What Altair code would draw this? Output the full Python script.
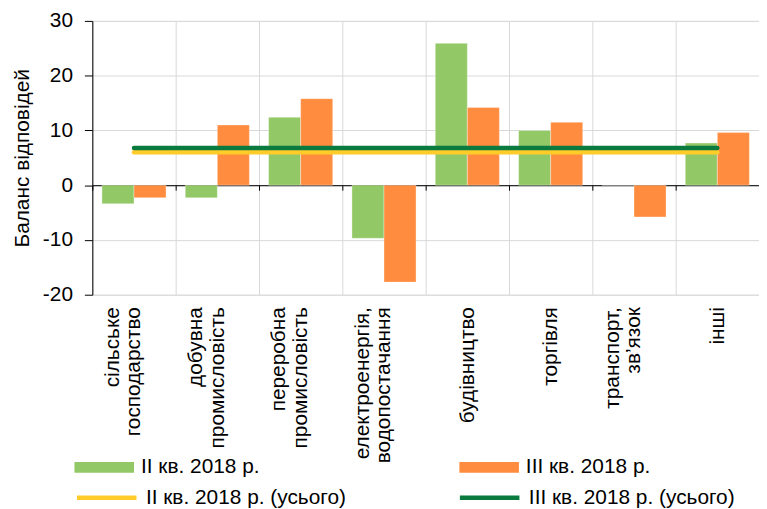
import altair as alt
import pandas as pd

categories = [
    "сільське\nгосподарство",
    "добувна\nпромисловість",
    "переробна\nпромисловість",
    "електроенергія,\nводопостачання",
    "будівництво",
    "торгівля",
    "транспорт,\nзв’язок",
    "інші",
]
series_bars = ["II кв. 2018 р.", "III кв. 2018 р."]
q2_values = [-3.4, -2.3, 12.4, -9.7, 25.9, 10.0, 0.0, 7.7]
q3_values = [-2.3, 11.0, 15.8, -17.7, 14.2, 11.5, -5.8, 9.6]

series_lines = ["II кв. 2018 р. (усього)", "III кв. 2018 р. (усього)"]
total_q2 = 6.0
total_q3 = 6.8

bar_rows = []
for c, a, b in zip(categories, q2_values, q3_values):
    bar_rows.append({"cat": c, "series": series_bars[0], "value": a})
    bar_rows.append({"cat": c, "series": series_bars[1], "value": b})
bar_df = pd.DataFrame(bar_rows)

line_rows = []
for c in categories:
    line_rows.append({"cat": c, "series": series_lines[0], "value": total_q2})
    line_rows.append({"cat": c, "series": series_lines[1], "value": total_q3})
line_df = pd.DataFrame(line_rows)

W = 672
H = 276
FONT = "Liberation Sans"
FS = 21
GRID = "#d9d9d9"

y_enc = alt.Y(
    "value:Q",
    scale=alt.Scale(domain=[-20, 30], nice=False, zero=False),
    axis=alt.Axis(
        values=[-20, -10, 0, 10, 20, 30],
        labelExpr="'' + datum.value",
        title="Баланс відповідей",
        titleFontSize=FS,
        titleFontWeight="normal",
        titleFont=FONT,
        titleColor="#000000",
        titlePadding=10,
        labelFontSize=FS,
        labelFont=FONT,
        labelColor="#000000",
        labelPadding=12,
        tickSize=8,
        tickColor="#000000",
        domainColor="#000000",
        grid=True,
        gridColor=GRID,
    ),
)

x_scale = alt.Scale(paddingInner=0, paddingOuter=0)

bars = alt.Chart(bar_df).mark_bar(stroke="#ffffff", strokeOpacity=0.35, strokeWidth=1).encode(
    x=alt.X(
        "cat:N",
        sort=categories,
        scale=x_scale,
        axis=alt.Axis(
            title=None,
            orient="bottom",
            labelAngle=270,
            labelExpr="indexof(datum.label, '\\n') >= 0 ? split(datum.label, '\\n') : [' ', datum.label]",
            labelFontSize=FS,
            labelFont=FONT,
            labelColor="#000000",
            labelLineHeight=22,
            labelPadding=12,
            labelLimit=300,
            labelOffset=-22,
            ticks=False,
            domain=False,
            grid=True,
            gridColor=GRID,
            tickBand="extent",
        ),
    ),
    xOffset=alt.XOffset(
        "series:N",
        sort=series_bars,
        scale=alt.Scale(paddingInner=0, paddingOuter=0.3),
    ),
    y=y_enc,
    fill=alt.Fill(
        "series:N",
        sort=series_bars,
        scale=alt.Scale(domain=series_bars, range=["#92c865", "#ff8c3f"]),
        legend=alt.Legend(
            title=None,
            orient="none",
            legendX=-18,
            legendY=420,
            direction="horizontal",
            symbolType="M-1,-0.18H1V0.18H-1Z",
            symbolSize=3600,
            symbolStrokeWidth=0,
            labelFontSize=FS,
            labelFont=FONT,
            labelColor="#000000",
            labelOffset=7,
            labelLimit=400,
            columnPadding=201,
        ),
    ),
)

lines = alt.Chart(line_df).mark_line(strokeWidth=4.5, strokeCap="round").encode(
    x=alt.X(
        "cat:N",
        sort=categories,
        scale=x_scale,
        axis=alt.Axis(
            title=None,
            orient="bottom",
            offset=-H * 20 / 50,
            labels=False,
            grid=False,
            domain=True,
            domainColor="#000000",
            ticks=True,
            tickColor="#000000",
            tickSize=5,
            tickBand="extent",
        ),
    ),
    y=y_enc,
    stroke=alt.Stroke(
        "series:N",
        sort=series_lines,
        scale=alt.Scale(domain=series_lines, range=["#ffcc2a", "#0b7a3e"]),
        legend=alt.Legend(
            title=None,
            orient="none",
            legendX=-18,
            legendY=448,
            direction="horizontal",
            symbolType="stroke",
            symbolSize=3600,
            symbolStrokeWidth=4.5,
            labelFontSize=FS,
            labelFont=FONT,
            labelColor="#000000",
            labelOffset=7,
            labelLimit=400,
            columnPadding=105,
        ),
    ),
)

chart = (
    alt.layer(bars, lines)
    .resolve_axis(x="independent")
    .resolve_legend(fill="independent", stroke="independent")
    .properties(
        width=W,
        height=H,
        autosize=alt.AutoSizeParams(type="none"),
        padding={"left": 85, "top": 11, "right": 0, "bottom": 214},
    )
    .configure_view(stroke=None)
    .configure(background="#ffffff")
)

chart.save("out.html", embed_options={"renderer": "svg", "actions": False})
